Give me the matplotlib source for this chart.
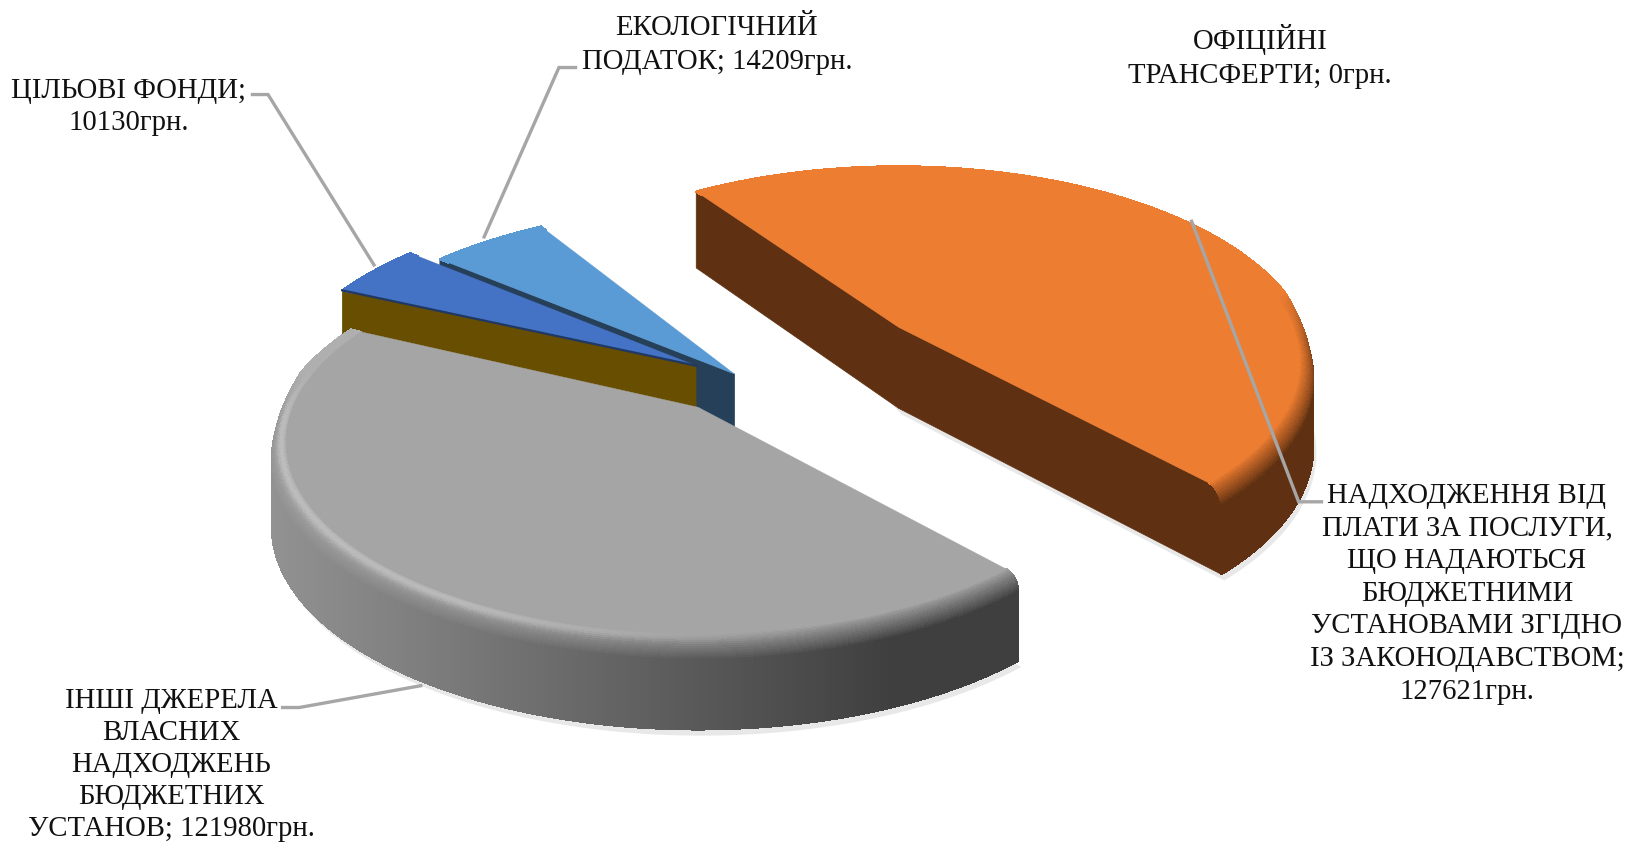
import numpy as np
import matplotlib
matplotlib.use("Agg")
import matplotlib.pyplot as plt
from matplotlib.collections import PolyCollection
from matplotlib.colors import to_rgb

# ---- data ----
categories = ["ОФІЦІЙНІ ТРАНСФЕРТИ", "НАДХОДЖЕННЯ ВІД ПЛАТИ ЗА ПОСЛУГИ",
              "ІНШІ ДЖЕРЕЛА ВЛАСНИХ НАДХОДЖЕНЬ", "ЦІЛЬОВІ ФОНДИ", "ЕКОЛОГІЧНИЙ ПОДАТОК"]
values = [0, 127621, 121980, 10130, 14209]
label_lines = [
    ["ОФІЦІЙНІ", "ТРАНСФЕРТИ; 0грн."],
    ["НАДХОДЖЕННЯ ВІД", "ПЛАТИ ЗА ПОСЛУГИ,", "ЩО НАДАЮТЬСЯ", "БЮДЖЕТНИМИ",
     "УСТАНОВАМИ ЗГІДНО", "ІЗ ЗАКОНОДАВСТВОМ;", "127621грн."],
    ["ІНШІ ДЖЕРЕЛА", "ВЛАСНИХ", "НАДХОДЖЕНЬ", "БЮДЖЕТНИХ", "УСТАНОВ; 121980грн."],
    ["ЦІЛЬОВІ ФОНДИ;", "10130грн."],
    ["ЕКОЛОГІЧНИЙ", "ПОДАТОК; 14209грн."],
]

# ---- styling / layout (in reference-view units) ----
W, H = 1568, 811.4
k, Bv = 0.188, 184.0
r_top = 0.968
depth = 78.0
bevel = 15.0
centers = [(865, 315), (865, 315), (672, 392), (670, 352), (707, 360)]
view_start = [125.0, 125.0, -49.0, 155.6, 140.3]   # perspective-corrected first edge
view_stretch = [1.0, 1.025, 0.98, 1.17, 1.0]
view_size = [1.0, 1.0, 1.0, 1.03, 1.06]
view_A = [392.0, 392.0, 403.0, 392.0, 392.0]
top_cols = ["#A5A5A5", "#ED7D31", "#A5A5A5", "#4472C4", "#5B9BD5"]
wall_cols = ["#000000", "#5F3011", "#3F3F3F", "#674E00", "#264059"]
label_base = [(1213, 47), (1412, 484), (165, 681), (124, 94), (690, 34)]
line_gaps = [33, 31.4, 31, 31, 32]
leaders = [None,
           [(1272, 483), (1250, 483), (1147, 213)],
           [(272, 681), (288, 681), (405, 660)],
           [(243, 91), (258, 91), (360, 255)],
           [(554, 65), (538, 65), (466, 228)]]
FS = 20.7

fig = plt.figure(figsize=(16.29, 8.43), dpi=100)
ax = fig.add_axes([0, 0, 1, 1])
ax.set_xlim(0, W)
ax.set_ylim(H, 0)
ax.axis("off")


def project(i, theta, r=1.0, z=0.0):
    c = centers[i]
    r = r * view_size[i]
    X, Y = r * np.cos(theta), r * np.sin(theta)
    w = 1 + k * Y
    zz = z * (1 - 0.07 * np.sin(theta))
    return c[0] + view_A[i] * X / w, c[1] - Bv * Y / w + zz


def wall_rgb(i, sx):
    if i == 2:  # grey wall runs from light on the left to dark on the right
        f = np.clip((sx - 262) / (860 - 262), 0, 1)
        return np.array(to_rgb("#929292")) * (1 - f) + np.array(to_rgb("#3F3F3F")) * f
    return np.array(to_rgb(wall_cols[i]))


def backness(theta):
    return np.clip(np.sin(theta) * 4 + 0.25, 0, 1)


total = float(sum(values))
spans = [v / total * 360 * s for v, s in zip(values, view_stretch)]

# soft ground shadow
for i in (1, 2):
    th = np.radians(np.linspace(view_start[i], view_start[i] - spans[i], 200))
    sx, sy = project(i, th, 1.0, depth * (1 - backness(th)))
    ax.fill(np.r_[sx, centers[i][0]] + 3, np.r_[sy, centers[i][1] + depth] + 6,
            color="#E8E8E8", lw=0, zorder=1)

z = 2
for i in (4, 3, 1, 2):
    if values[i] == 0:
        continue
    c = centers[i]
    a0, a1 = view_start[i], view_start[i] - spans[i]
    # radial faces
    for ang, nrm in ((a0, a0 + 90), (a1, a1 - 90)):
        if np.sin(np.radians(nrm)) < 0:
            t = np.radians(ang)
            x0, y0 = project(i, t, 0.0, 0)
            x1, y1 = project(i, t, 1.0, 0)
            xb1, yb1 = project(i, t, 1.0, depth)
            ax.fill([x0, x1, xb1, x0], [y0, y1, yb1, y0 + depth],
                    color=wall_cols[i] if i != 2 else "#3F3F3F", lw=0.5, zorder=z)
    # rim: bevel + straight wall, painted as small quads, back to front
    ths = np.radians(np.arange(a0, a1 - 0.5, -0.5))
    ths = np.r_[ths[ths > np.radians(a1)], np.radians(a1)]
    phis = np.linspace(0, np.pi / 2, 15)
    rs = list(r_top + (1 - r_top) * np.sin(phis)) + [1.0, 1.0]
    zs = list(bevel * (1 - np.cos(phis))) + [bevel + 1, depth]
    fr = list(phis / (np.pi / 2)) + [1.0, 1.0]
    polys, cols, keys = [], [], []
    top = np.array(to_rgb(top_cols[i]))
    for j in range(len(ths) - 1):
        back = backness(ths[j])
        back2 = backness(ths[j + 1])
        for m in range(len(rs) - 1):
            xa, ya = project(i, ths[j], rs[m], zs[m] * (1 - back))
            xb, yb = project(i, ths[j + 1], rs[m], zs[m] * (1 - back2))
            xc, yc = project(i, ths[j + 1], rs[m + 1], zs[m + 1] * (1 - back2))
            xd, yd = project(i, ths[j], rs[m + 1], zs[m + 1] * (1 - back))
            polys.append([(xa, ya), (xb, yb), (xc, yc), (xd, yd)])
            wc = wall_rgb(i, xa)
            f = fr[m]
            col = top * (1 - f) + wc * f
            if i == 2:  # light streak on the grey bevel, fading to the right
                hl = np.exp(-((f - 0.22) / 0.2) ** 2) * 0.30 * np.clip((800 - xa) / 350, 0, 1)
                col = col + (1 - col) * hl
            col = col * (1 - back) + top * back * (1.06 if i == 2 else 1.0)
            cols.append(np.clip(col, 0, 1))
            keys.append((-np.sin(ths[j]), m))
    order = sorted(range(len(polys)), key=lambda q: keys[q])
    ax.add_collection(PolyCollection([polys[q] for q in order],
                                     facecolors=[cols[q] for q in order],
                                     edgecolors=[cols[q] for q in order],
                                     linewidths=0.9, antialiaseds=False, zorder=z))
    # top face
    th = np.radians(np.linspace(a0, a1, 300))
    sx, sy = project(i, th, r_top, 0)
    ax.fill(np.r_[c[0], sx], np.r_[c[1], sy], color=top_cols[i], lw=0.3, zorder=z + 0.5)
    if i == 3:  # dark seam along the front edge of the blue slice
        ex, ey = project(i, np.radians(a0), 1.0, 0)
        ax.plot([c[0], ex], [c[1], ey], color="#1F3864", lw=1.6, zorder=z + 0.6)
    z += 1

# leader lines
for pts in leaders:
    if pts:
        ax.plot(*zip(*pts), color="#A6A6A6", lw=2.4, zorder=20, solid_joinstyle="miter")

# data labels
for lines, (x, y0), gap in zip(label_lines, label_base, line_gaps):
    for n, s in enumerate(lines):
        ax.text(x, y0 + n * gap, s, ha="center", va="baseline", fontsize=FS,
                family="Liberation Serif", color="#111111", zorder=30)

fig.savefig("out.png", dpi=100, facecolor="white")
